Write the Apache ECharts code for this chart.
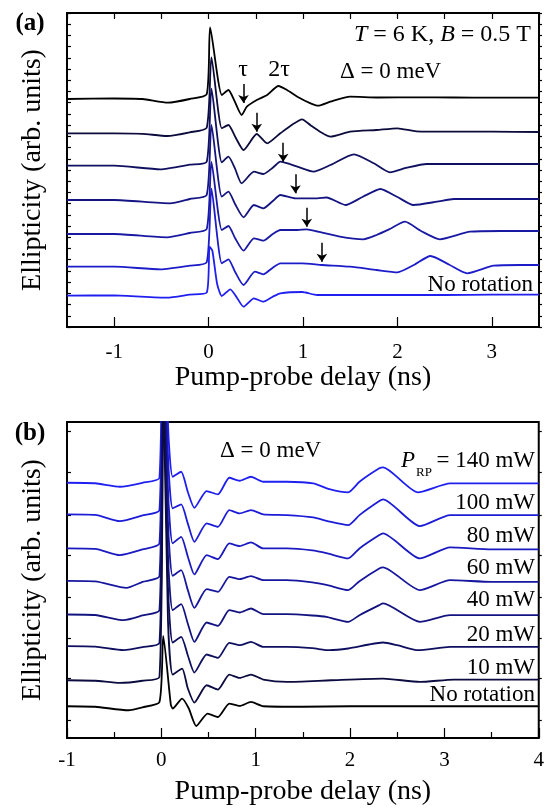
<!DOCTYPE html>
<html>
<head>
<meta charset="utf-8">
<script src="https://cdn.jsdelivr.net/npm/echarts@6/dist/echarts.min.js"></script>
<style>
  html, body { margin: 0; padding: 0; background: #fff; }
  #chart { width: 547px; height: 811px; }
</style>
</head>
<body>
<div id="chart"></div>
<script>
// [delay (ns), ellipticity above the trace's own baseline]  -- panel (a), top to bottom
const traceA1 = [[-1.5,0],[-1.0,0.5],[-0.7,0],[-0.43,-3.7],[-0.2,0],[-0.02,4.7],[0.016,71.7],[0.14,4],[0.21,9],[0.27,-1],[0.35,-16],[0.405,-7.7],[0.51,-1],[0.62,4],[0.74,13],[0.83,9],[0.94,2.3],[1.08,-4.3],[1.16,-6.7],[1.29,-2.7],[1.5,2.3],[1.8,1.5],[2.2,1.7],[2.6,1.5],[3.0,1.3],[3.5,1.3]];
const traceA2 = [[-1.5,0],[-1.0,0],[-0.7,-0.5],[-0.44,-2.7],[-0.2,1],[-0.02,5.6],[0.03,76],[0.14,5],[0.21,8.3],[0.29,-5],[0.37,-16.7],[0.51,-0.7],[0.62,-10],[0.76,0],[0.88,8.3],[0.99,14],[1.08,8],[1.18,1.6],[1.29,-3.4],[1.5,1.6],[1.78,3.3],[2.0,5],[2.2,2],[2.6,1.6],[3.0,1.6],[3.5,1.3]];
const traceA3 = [[-1.5,0],[-1.0,0],[-0.51,-3.6],[-0.2,1],[-0.02,4],[0.03,77],[0.14,3.4],[0.21,9],[0.28,-3],[0.35,-17.6],[0.48,-6],[0.58,-8.3],[0.68,-2],[0.76,4],[0.94,-1],[1.11,-6],[1.29,0.7],[1.54,11.4],[1.75,2.4],[1.92,-6.6],[2.1,-2],[2.31,1.7],[2.7,1.7],[3.1,1.7],[3.5,1.7]];
const traceA4 = [[-1.5,0],[-1.0,0],[-0.41,-3.3],[-0.2,1],[-0.02,5],[0.03,75],[0.14,3.3],[0.21,8.3],[0.28,-4],[0.37,-17.3],[0.48,-5],[0.58,-8.3],[0.68,-1],[0.76,5],[0.92,1.7],[1.15,1.7],[1.25,2.5],[1.45,-5],[1.63,3],[1.82,11],[2.0,3],[2.17,-5],[2.42,-1.7],[2.6,1],[3.0,1],[3.5,1]];
const traceA5 = [[-1.5,0],[-1.0,0],[-0.44,-3.3],[-0.2,1],[-0.02,5],[0.03,72],[0.14,4],[0.21,8],[0.28,-4],[0.37,-16.7],[0.48,-4.3],[0.58,-6.7],[0.68,0],[0.76,4],[0.94,4],[1.04,4.7],[1.16,2.3],[1.39,-2.7],[1.64,-5.3],[1.78,-1],[1.92,5],[2.08,12.3],[2.25,3],[2.45,-5.3],[2.77,2.3],[3.1,3],[3.5,3]];
const traceA6 = [[-1.5,0],[-1.0,0],[-0.51,-2.6],[-0.2,1],[-0.02,4.4],[0.03,78],[0.14,3.4],[0.21,7.4],[0.28,-5],[0.37,-18.3],[0.49,-5],[0.58,-7.6],[0.68,-1],[0.76,3.4],[0.99,3.4],[1.2,1.7],[1.5,0],[1.78,-3.3],[2.0,-5.6],[2.18,2],[2.35,10.7],[2.55,2],[2.74,-6.6],[3.02,1],[3.3,1.7],[3.5,1.7]];
const traceA7 = [[-1.5,0],[-1.0,0.3],[-0.44,-2],[-0.2,1],[-0.02,3],[0.01,49],[0.04,45],[0.09,12],[0.14,-0.3],[0.23,6.4],[0.3,-2],[0.37,-11],[0.48,-2.6],[0.58,-6],[0.68,-1],[0.76,2.4],[0.99,3.7],[1.15,0.7],[1.5,0.7],[2.0,0.7],[2.5,0.7],[3.0,1],[3.5,1]];
const offsetsA = [228, 193.7, 161.3, 127, 93, 60.3, 31.3];
const colorsA = ['#000000', '#0b0b3c', '#101060', '#141482', '#1818a2', '#1c1cc8', '#1f1ff0'];
// echo arrows: delay tau and tip height above each trace's baseline
const tauA = [0.37, 0.51, 0.79, 0.92, 1.04, 1.2];
const arrowTipA = [-4, 1.6, 4, 6.7, 7.3, 5];
const xTicksA = [-1, 0, 1, 2, 3];

// panel (b), top to bottom: 140, 100, 80, 60, 40, 20, 10 mW, no rotation
const traceB140 = [[-1.0,0],[-0.7,-0.5],[-0.44,-4],[-0.2,0],[-0.02,5],[0.02,300],[0.07,60],[0.12,6],[0.21,11],[0.28,-9],[0.35,-25],[0.48,-8.3],[0.6,-11.6],[0.72,5],[0.83,2],[0.95,6],[1.08,1],[1.33,1],[1.61,-0.6],[1.78,-6.3],[1.98,-9.6],[2.1,1],[2.31,14.4],[2.35,15.4],[2.72,-9.6],[3.06,-0.6],[3.5,-0.6],[4.0,-0.6]];
const traceB100 = [[-1.0,0],[-0.7,-0.5],[-0.44,-6.7],[-0.2,-1],[-0.02,4.3],[0.02,300],[0.07,60],[0.12,6],[0.21,10],[0.28,-9],[0.35,-27.4],[0.48,-9],[0.6,-12.4],[0.72,4.3],[0.83,1],[0.95,4.3],[1.08,0],[1.33,-0.7],[1.61,-3],[1.76,-6.7],[1.98,-10.7],[2.1,-0.7],[2.31,13.3],[2.35,15],[2.74,-11.7],[3.06,-0.7],[3.5,-0.7],[4.0,-0.7]];
const traceB80 = [[-1.0,0],[-0.7,-0.5],[-0.44,-6.7],[-0.2,-1],[-0.02,5],[0.02,300],[0.07,60],[0.12,5],[0.21,11.6],[0.28,-8],[0.35,-26],[0.48,-6.7],[0.6,-10.7],[0.72,5],[0.83,2.3],[0.95,6],[1.08,0],[1.33,0],[1.6,-2],[1.76,-5],[1.98,-10],[2.1,0],[2.31,13.3],[2.35,15],[2.74,-10],[3.06,1],[3.5,-1],[4.0,-1]];
const traceB60 = [[-1.0,0],[-0.7,-0.5],[-0.37,-7],[-0.2,-1],[-0.02,4.7],[0.02,300],[0.07,60],[0.12,5],[0.21,10.7],[0.28,-9],[0.35,-27],[0.48,-8.3],[0.6,-11],[0.72,4],[0.83,1.7],[0.95,4.7],[1.08,0.7],[1.33,0.7],[1.6,-1.5],[1.76,-4.3],[1.98,-9.3],[2.1,-0.3],[2.31,12.4],[2.35,13.4],[2.74,-9.3],[3.06,0.7],[3.5,-1],[4.0,-1]];
const traceB40 = [[-1.0,0],[-0.7,-0.5],[-0.4,-5.7],[-0.2,-1],[-0.02,4.3],[0.02,300],[0.07,60],[0.12,4.3],[0.21,10.3],[0.28,-9],[0.35,-27.4],[0.48,-8],[0.6,-11.4],[0.72,4.3],[0.83,2],[0.95,6],[1.08,0.3],[1.33,0.3],[1.6,-1],[1.75,-2.4],[1.98,-7.4],[2.1,-0.7],[2.31,9.3],[2.35,11],[2.74,-7.4],[3.06,-0.7],[3.5,-0.7],[4.0,-0.7]];
const traceB20 = [[-1.0,0],[-0.7,-0.5],[-0.4,-4],[-0.2,-1],[-0.02,3.3],[0.02,300],[0.07,60],[0.12,3.7],[0.21,9.3],[0.28,-9],[0.35,-26.3],[0.48,-8.3],[0.6,-11.7],[0.72,3.3],[0.83,1],[0.95,4.3],[1.08,-0.7],[1.33,-0.7],[1.6,-2],[1.78,-4],[1.98,-2.3],[2.2,1.7],[2.35,3.7],[2.5,1],[2.72,-4],[3.06,-0.7],[3.5,-0.7],[4.0,-0.7]];
const traceB10 = [[-1.0,0],[-0.7,-0.5],[-0.44,-2.7],[-0.2,-0.5],[-0.02,3.3],[0.02,300],[0.07,60],[0.12,5.7],[0.22,11.7],[0.28,-8],[0.35,-22.3],[0.48,-5],[0.6,-9.3],[0.72,5.7],[0.83,2.3],[0.95,5.7],[1.08,0.7],[1.33,-1.7],[1.8,0],[2.35,1.7],[2.74,-1.7],[3.1,0.7],[4.0,0.7]];
const traceBNone = [[-1.0,0],[-0.7,-0.5],[-0.35,-4],[-0.2,-1],[-0.02,4.3],[0.02,70.3],[0.1,2],[0.12,-2.3],[0.22,7.7],[0.29,-2],[0.37,-19.7],[0.49,-7.3],[0.6,-10.7],[0.72,2.7],[0.83,0.3],[0.95,4.3],[1.08,0],[1.5,-0.5],[2.0,0],[3.0,0],[4.0,0]];
const offsetsB = [255, 223.4, 189.4, 157, 123.4, 91.7, 57.7, 31.7];
const colorsB = ['#1f1ff0', '#1c1cd8', '#1a1ac0', '#16169e', '#131380', '#0f0f60', '#0b0b40', '#000000'];
const powerLabels = ['140 mW', '100 mW', '80 mW', '60 mW', '40 mW', '20 mW', '10 mW', 'No rotation'];
const yTicksB = [17.7, 59.4, 99.4, 141, 182.7, 222.7, 265.4, 306];

const tracesA = [traceA1, traceA2, traceA3, traceA4, traceA5, traceA6, traceA7];
const tracesB = [traceB140, traceB100, traceB80, traceB60, traceB40, traceB20, traceB10, traceBNone];

const FONT = 'Liberation Serif';
const chart = echarts.init(document.getElementById('chart'), null, { renderer: 'canvas' });

function lineSeries(trace, offset, color, xi, yi) {
  return {
    type: 'line',
    xAxisIndex: xi,
    yAxisIndex: yi,
    data: trace.map(p => [p[0], p[1] + offset]),
    showSymbol: false,
    smooth: 0.2,
    lineStyle: { color: color, width: 1.8 },
    silent: true
  };
}

const series = [];
tracesA.forEach((t, i) => {
  const s = lineSeries(t, offsetsA[i], colorsA[i], 0, 0);
  if (i < tauA.length) {
    const tip = offsetsA[i] + arrowTipA[i];
    s.markLine = {
      silent: true,
      symbol: ['none', 'arrow'],
      symbolSize: 8,
      label: { show: false },
      lineStyle: { color: '#000', width: 1.5, type: 'solid' },
      data: [[{ coord: [tauA[i], tip + 19] }, { coord: [tauA[i], tip] }]]
    };
  }
  series.push(s);
});
tracesB.forEach((t, i) => series.push(lineSeries(t, offsetsB[i], colorsB[i], 2, 2)));

const tickStyle = { lineStyle: { color: '#000', width: 1.2 } };
const axisFont = { color: '#000', fontFamily: FONT, fontSize: 21 };
const titleFont = { color: '#000', fontFamily: FONT, fontSize: 28 };

function yAxes(gridIndex, max, tickOpt) {
  const base = {
    type: 'value', gridIndex: gridIndex, min: 0, max: max,
    axisLine: { show: false, onZero: false }, axisLabel: { show: false }, splitLine: { show: false }
  };
  return [
    Object.assign({}, base, {
      position: 'left',
      axisTick: Object.assign({ inside: true, length: 4 }, tickStyle, tickOpt.tick),
      name: 'Ellipticity (arb. units)', nameLocation: 'middle', nameGap: 20,
      nameTextStyle: { color: '#000', fontFamily: FONT, fontSize: 28 }
    }, tickOpt.axis),
    Object.assign({}, base, {
      position: 'right',
      axisTick: Object.assign({ inside: false, length: 3 }, tickStyle, tickOpt.tick)
    }, tickOpt.axis)
  ];
}

const graphicText = (text, x, y, opts) => ({
  type: 'text', x: x, y: y, silent: true,
  style: Object.assign({
    text: text, fill: '#000', font: '23px "' + FONT + '"',
    textAlign: 'left', textVerticalAlign: 'middle'
  }, opts || {})
});

const graphic = [
  graphicText('(a)', 30, 24, { font: 'bold 25px "' + FONT + '"', textAlign: 'center' }),
  graphicText('(b)', 30, 434, { font: 'bold 25px "' + FONT + '"', textAlign: 'center' }),
  graphicText('τ', 243, 70, { font: '24px "' + FONT + '"', textAlign: 'center' }),
  graphicText('2τ', 279, 70, { font: '24px "' + FONT + '"', textAlign: 'center' }),
  {
    type: 'text', x: 531, y: 35, silent: true,
    style: {
      text: '{i|T} = 6 K, {i|B} = 0.5 T', fill: '#000',
      font: '24px "' + FONT + '"', textAlign: 'right', textVerticalAlign: 'middle',
      rich: { i: { fontStyle: 'italic', fontFamily: FONT, fontSize: 24, fill: '#000' } }
    }
  },
  graphicText('Δ = 0 meV', 340, 72),
  graphicText('No rotation', 533, 285, { textAlign: 'right' }),
  graphicText('Δ = 0 meV', 220, 451),
  graphicText('P', 408, 461, { font: 'italic 23px "' + FONT + '"', textAlign: 'center' }),
  graphicText('RP', 424, 473, { font: '13px "' + FONT + '"', textAlign: 'center' }),
  graphicText('= 140 mW', 535, 461, { textAlign: 'right' })
];
const labelY = [null, 503, 536, 568, 600, 634.5, 667.5, 695];
powerLabels.forEach((lab, i) => {
  if (i > 0) graphic.push(graphicText(lab, 535, labelY[i], { textAlign: 'right' }));
});

const option = {
  animation: false,
  backgroundColor: '#fff',
  grid: [
    { left: 67, right: 8, top: 13, bottom: 484, show: true, borderColor: '#000', borderWidth: 2, backgroundColor: 'transparent' },
    { left: 67, right: 8, top: 422, bottom: 73, show: true, borderColor: '#000', borderWidth: 2, backgroundColor: 'transparent' }
  ],
  xAxis: [
    {
      type: 'value', gridIndex: 0, min: -1.5, max: 3.5,
      axisLine: { show: false, onZero: false }, splitLine: { show: false },
      axisTick: Object.assign({ inside: true, length: 10, customValues: xTicksA }, tickStyle),
      axisLabel: Object.assign({ margin: 15, customValues: xTicksA }, axisFont),
      name: 'Pump-probe delay (ns)', nameLocation: 'middle', nameGap: 36, nameTextStyle: titleFont
    },
    {
      type: 'value', gridIndex: 0, min: -1.5, max: 3.5, interval: 0.5,
      axisLine: { show: false, onZero: false }, splitLine: { show: false }, axisLabel: { show: false },
      axisTick: Object.assign({ inside: true, length: 6 }, tickStyle)
    },
    {
      type: 'value', gridIndex: 1, min: -1, max: 4, interval: 1,
      axisLine: { show: false, onZero: false }, splitLine: { show: false },
      axisTick: Object.assign({ inside: true, length: 10 }, tickStyle),
      minorTick: Object.assign({ show: true, splitNumber: 2, length: 6 }, tickStyle),
      axisLabel: Object.assign({ margin: 12, showMinLabel: true, showMaxLabel: true }, axisFont),
      name: 'Pump-probe delay (ns)', nameLocation: 'middle', nameGap: 40, nameTextStyle: titleFont
    }
  ],
  yAxis: [].concat(
    yAxes(0, 314, { axis: { interval: 314 / 28 }, tick: {} }),
    yAxes(1, 315.7, { axis: {}, tick: { customValues: yTicksB } })
  ),
  series: series,
  graphic: graphic
};

chart.setOption(option);
</script>
</body>
</html>
